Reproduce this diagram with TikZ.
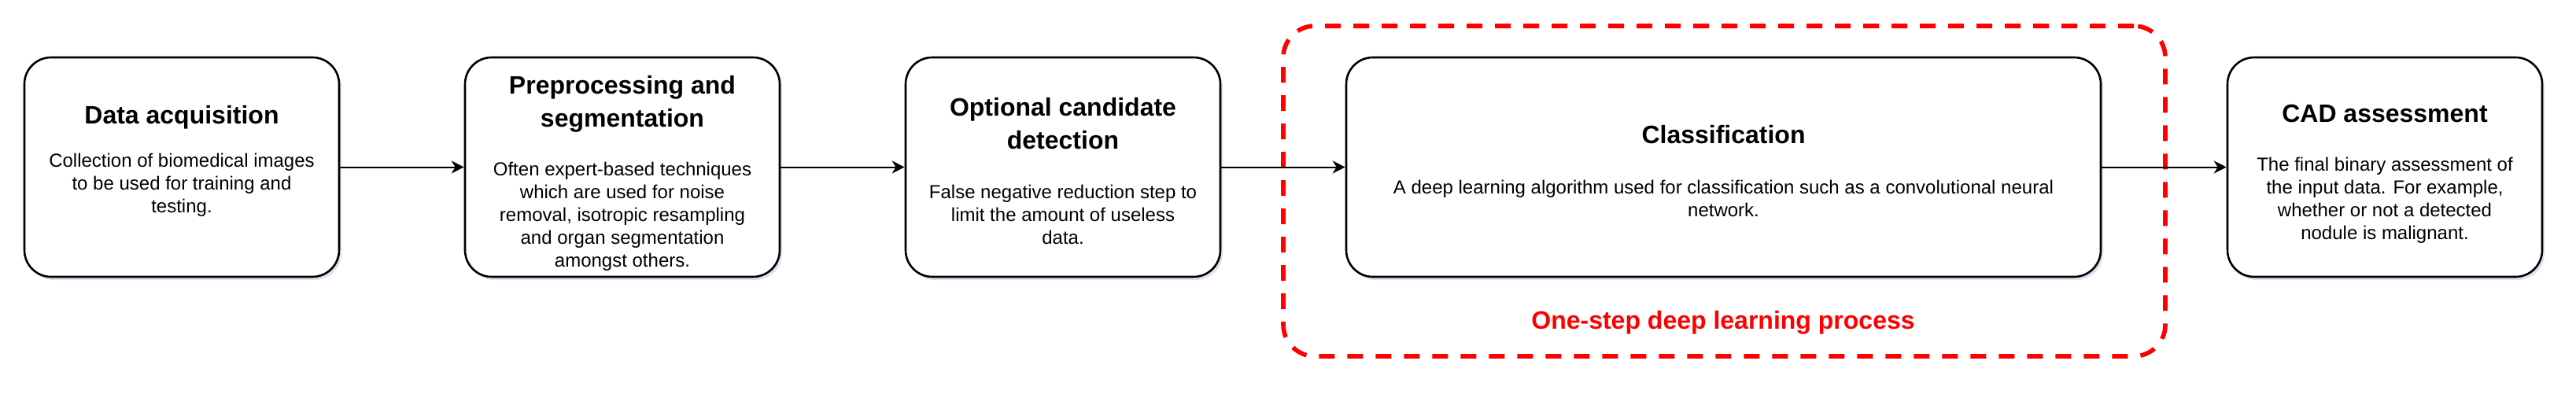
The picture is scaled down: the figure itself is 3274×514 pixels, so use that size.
\documentclass[tikz,border=0pt]{standalone}
\usepackage{fontspec}
\setmainfont{Liberation Sans}
\usetikzlibrary{arrows.meta,shadows}
\begin{document}
\begin{tikzpicture}[x=0.5pt,y=-0.5pt,
  stagebox/.style={draw=black, line width=1.3pt, rounded corners=17pt, fill=white,
    minimum height=139.5pt, inner sep=0pt,
    drop shadow={shadow xshift=1.5pt, shadow yshift=-2pt, opacity=0.18, fill=blue!40!gray}},
  smallbox/.style={stagebox, minimum width=200pt},
  titletext/.style={align=center, inner sep=0pt, anchor=base, font=\fontsize{16}{21}\selectfont\bfseries},
  bodytext/.style={align=center, inner sep=0pt, anchor=base, font=\fontsize{12}{14.4}\selectfont},
  flow/.style={draw=black, line width=1pt, -{Stealth[length=8pt,width=8pt,inset=2.5pt]}},
  groupbox/.style={draw=red, line width=2.8pt, dash pattern=on 10pt off 8pt, rounded corners=20pt,
    minimum width=560.5pt, minimum height=210pt, inner sep=0pt},
  grouplabel/.style={inner sep=0pt, anchor=base, text=red, font=\fontsize{16}{19}\selectfont\bfseries}
]
\useasboundingbox (0,0) rectangle (3274,514);

% group
\node[groupbox] (grp) at (2191.5,243) {};

% boxes
\node[smallbox] (b1) at (231,212.5) {};
\node[smallbox] (b2) at (791,212.5) {};
\node[smallbox] (b3) at (1351,212.5) {};
\node[stagebox, minimum width=479.5pt] (b4) at (2190.5,212.5) {};
\node[smallbox] (b5) at (3031,212.5) {};

% texts (anchored at the baseline of the last line)
\node[titletext] (t1) at (231,157) {Data acquisition};
\node[bodytext] (d1) at (231,270) {Collection of biomedical images\\to be used for training and\\testing.};

\node[titletext] (t2) at (791,161.5) {Preprocessing and\\segmentation};
\node[bodytext] (d2) at (791,339) {Often expert-based techniques\\which are used for noise\\removal, isotropic resampling\\and organ segmentation\\amongst others.};

\node[titletext] (t3) at (1351,189.5) {Optional candidate\\detection};
\node[bodytext] (d3) at (1351,310) {False negative reduction step to\\limit the amount of useless\\data.};

\node[titletext] (t4) at (2190.5,182) {Classification};
\node[bodytext] (d4) at (2190.5,275.5) {A deep learning algorithm used for classification such as a convolutional neural\\network.};

\node[titletext] (t5) at (3031,155) {CAD assessment};
\node[bodytext] (d5) at (3031,304) {The final binary assessment of\\the input data. For example,\\whether or not a detected\\nodule is malignant.};

\node[grouplabel] (gl) at (2190,418.5) {One-step deep learning process};

% connectors
\draw[flow] (b1.east) -- (b2.west);
\draw[flow] (b2.east) -- (b3.west);
\draw[flow] (b3.east) -- (b4.west);
\draw[flow] (b4.east) -- (b5.west);
\end{tikzpicture}
\end{document}
